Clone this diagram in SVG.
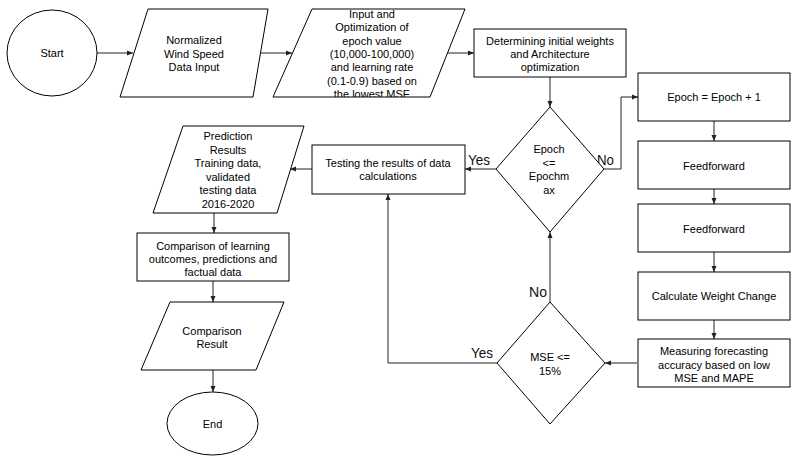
<svg xmlns="http://www.w3.org/2000/svg" width="801" height="464" viewBox="0 0 801 464">
<style>
.n{fill:#fff;stroke:#000;stroke-width:1}
.t{font-family:"Liberation Sans",Arial,sans-serif;font-size:11px;fill:#000;text-anchor:middle}
.l{font-family:"Liberation Sans",Arial,sans-serif;font-size:14.5px;fill:#111}
.c{fill:none;stroke:#222;stroke-width:1}
</style>
<defs>
<marker id="a" viewBox="0 0 6 6" refX="6" refY="3" markerWidth="6" markerHeight="6" markerUnits="userSpaceOnUse" orient="auto">
<path d="M0,0.5 L6,3 L0,5.5 Z" fill="#222"/>
</marker>
<clipPath id="p2clip"><rect x="270" y="9.5" width="200" height="87.5"/></clipPath>
</defs>
<rect width="801" height="464" fill="#fff"/>
<g id="connectors">
<path class="c" d="M97,53 H133" marker-end="url(#a)"/>
<path class="c" d="M261,53 H292" marker-end="url(#a)"/>
<path class="c" d="M447,53 H474" marker-end="url(#a)"/>
<path class="c" d="M550,77 V107" marker-end="url(#a)"/>
<path class="c" d="M496,169 H465" marker-end="url(#a)"/>
<path class="c" d="M604,169 H621 V97 H638" marker-end="url(#a)"/>
<path class="c" d="M714,121 V141" marker-end="url(#a)"/>
<path class="c" d="M714,189 V204" marker-end="url(#a)"/>
<path class="c" d="M714,252 V272" marker-end="url(#a)"/>
<path class="c" d="M714,320 V339" marker-end="url(#a)"/>
<path class="c" d="M637,363 H605" marker-end="url(#a)"/>
<path class="c" d="M550,302 V232" marker-end="url(#a)"/>
<path class="c" d="M497,363 H388 V194" marker-end="url(#a)"/>
<path class="c" d="M312,169 H290" marker-end="url(#a)"/>
<path class="c" d="M214,213 V233" marker-end="url(#a)"/>
<path class="c" d="M213,281 V302" marker-end="url(#a)"/>
<path class="c" d="M213,370 V392" marker-end="url(#a)"/>
<text class="l" x="468" y="165" textLength="22" lengthAdjust="spacingAndGlyphs">Yes</text>
<text class="l" x="597" y="165" textLength="17" lengthAdjust="spacingAndGlyphs">No</text>
<text class="l" x="529" y="297" textLength="18" lengthAdjust="spacingAndGlyphs">No</text>
<text class="l" x="471" y="358" textLength="22" lengthAdjust="spacingAndGlyphs">Yes</text>
</g>
<g id="start">
<ellipse class="n" cx="52" cy="53" rx="45" ry="43"/>
<text class="t" x="52" y="57">Start</text>
</g>
<g id="input">
<polygon class="n" points="148,9 268,9 253,97 120,97"/>
<text class="t" x="194" y="44">Normalized</text>
<text class="t" x="194" y="57.5">Wind Speed</text>
<text class="t" x="194" y="71">Data Input</text>
</g>
<g id="optimization">
<polygon class="n" points="312,9 465,9 430,97 273,97"/>
<g clip-path="url(#p2clip)">
<text class="t" x="372" y="18">Input and</text>
<text class="t" x="372" y="31.3">Optimization of</text>
<text class="t" x="372" y="44.6">epoch value</text>
<text class="t" x="372" y="57.9">(10,000-100,000)</text>
<text class="t" x="372" y="71.2">and learning rate</text>
<text class="t" x="372" y="84.5">(0.1-0.9) based on</text>
<text class="t" x="372" y="97.8">the lowest MSE</text>
</g>
</g>
<g id="weights">
<rect class="n" x="474" y="29" width="152" height="48"/>
<text class="t" x="550" y="45">Determining initial weights</text>
<text class="t" x="550" y="58">and Architecture</text>
<text class="t" x="550" y="71">optimization</text>
</g>
<g id="epochCheck">
<polygon class="n" points="550,107 604,169 550,232 496,169"/>
<text class="t" x="549" y="153">Epoch</text>
<text class="t" x="549" y="166.5">&lt;=</text>
<text class="t" x="549" y="180">Epochm</text>
<text class="t" x="549" y="193.5">ax</text>
</g>
<g id="epochInc">
<rect class="n" x="638" y="73" width="152" height="48"/>
<text class="t" x="714" y="101">Epoch = Epoch + 1</text>
</g>
<g id="feedforward1">
<rect class="n" x="638" y="141" width="152" height="48"/>
<text class="t" x="714" y="170">Feedforward</text>
</g>
<g id="feedforward2">
<rect class="n" x="638" y="204" width="152" height="48"/>
<text class="t" x="714" y="233">Feedforward</text>
</g>
<g id="weightChange">
<rect class="n" x="638" y="272" width="152" height="48"/>
<text class="t" x="714" y="300">Calculate Weight Change</text>
</g>
<g id="measuring">
<rect class="n" x="638" y="339" width="152" height="48"/>
<text class="t" x="714" y="355">Measuring forecasting</text>
<text class="t" x="714" y="368.5">accuracy based on low</text>
<text class="t" x="714" y="382">MSE and MAPE</text>
</g>
<g id="mseCheck">
<polygon class="n" points="550,302 605,363 550,424 497,363"/>
<text class="t" x="550" y="361">MSE &lt;=</text>
<text class="t" x="550" y="375">15%</text>
</g>
<g id="testing">
<rect class="n" x="312" y="145" width="153" height="49"/>
<text class="t" x="388" y="167">Testing the results of data</text>
<text class="t" x="388" y="180">calculations</text>
</g>
<g id="prediction">
<polygon class="n" points="183,126 304,126 277,213 153,213"/>
<text class="t" x="228" y="140">Prediction</text>
<text class="t" x="228" y="153.5">Results</text>
<text class="t" x="228" y="167">Training data,</text>
<text class="t" x="228" y="180.5">validated</text>
<text class="t" x="228" y="194">testing data</text>
<text class="t" x="228" y="207.5">2016-2020</text>
</g>
<g id="comparison">
<rect class="n" x="137" y="233" width="152" height="48"/>
<text class="t" x="213" y="250">Comparison of learning</text>
<text class="t" x="213" y="263">outcomes, predictions and</text>
<text class="t" x="213" y="276">factual data</text>
</g>
<g id="comparisonResult">
<polygon class="n" points="170,302 284,302 256,370 141,370"/>
<text class="t" x="212" y="335">Comparison</text>
<text class="t" x="212" y="347.5">Result</text>
</g>
<g id="end">
<ellipse class="n" cx="212.5" cy="423.5" rx="45.5" ry="31.5"/>
<text class="t" x="212.5" y="428">End</text>
</g>
</svg>
